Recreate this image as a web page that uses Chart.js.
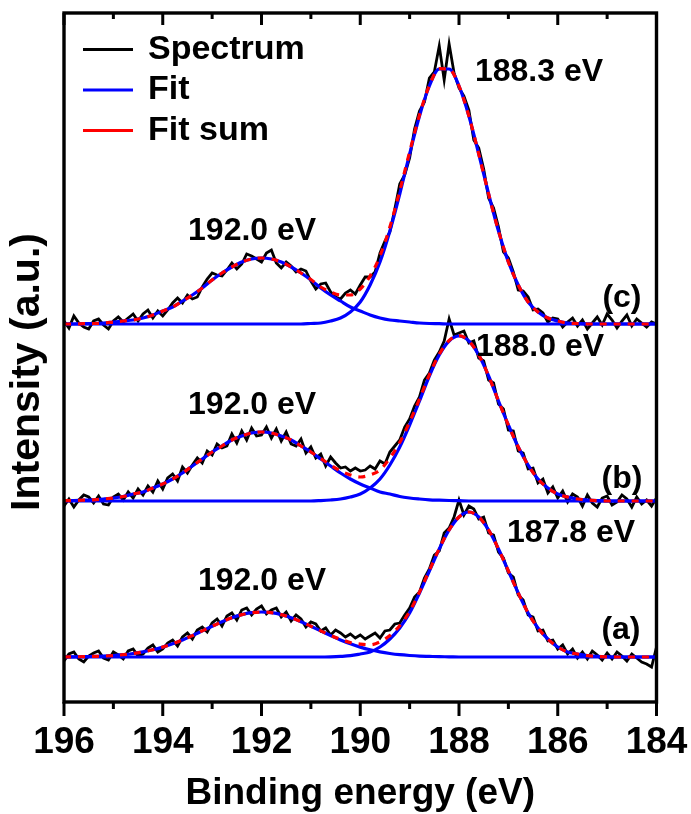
<!DOCTYPE html>
<html>
<head>
<meta charset="utf-8">
<title>B 1s spectra</title>
<script src="https://cdn.jsdelivr.net/npm/chart.js@4.4.1/dist/chart.umd.min.js"></script>
<style>
  html, body { margin: 0; padding: 0; background: #fff; }
  #chart { display: block; }
</style>
</head>
<body>
<canvas id="chart" width="691" height="814" style="width:691px;height:814px"></canvas>
<script>
// measured spectra, 196.0 -> 184.0 eV in 0.1 eV steps (intensity above each baseline)
var specA = [
  -4, 3, 5, -2, -5, 1, 4, 6, -1, -3,
  5, 2, -2, 6, 8, 1, 3, 9, 12, 5,
  8, 14, 17, 11, 20, 24, 18, 27, 30, 25,
  34, 38, 31, 41, 44, 37, 47, 49, 42, 48,
  51, 43, 47, 49, 40, 45, 36, 42, 38, 30,
  35, 33, 26, 29, 22, 27, 24, 20, 23, 19,
  22, 18, 21, 24, 19, 26, 27, 33, 34, 42,
  49, 60, 65, 79, 88, 102, 106, 124, 129, 140,
  157, 142, 151, 148, 138, 140, 124, 122, 105, 99,
  84, 80, 62, 57, 42, 40, 26, 27, 16, 17,
  8, 12, 3, 8, -1, 5, -2, 6, 2, -3,
  4, -2, 5, 1, -4, 3, -1, -5, -7, -10,
  10
];
var specB = [
  -5, 2, -6, 1, 6, 4, -2, 5, -3, -4,
  4, 7, 1, 9, 3, 12, 6, 15, 9, 20,
  12, 23, 27, 20, 34, 28, 36, 43, 38, 50,
  46, 57, 53, 55, 67, 58, 70, 61, 73, 65,
  66, 74, 63, 72, 60, 69, 57, 55, 62, 48,
  54, 43, 47, 35, 44, 38, 33, 34, 30, 33,
  30, 31, 35, 32, 40, 37, 49, 55, 61, 74,
  82, 95, 104, 121, 128, 141, 149, 160, 182, 166,
  168, 170, 158, 160, 143, 140, 121, 118, 97, 92,
  71, 70, 50, 48, 32, 33, 18, 22, 8, 14,
  3, 10, -1, 7, 4, -5, 6, -2, -6, 3,
  5, -4, -1, 6, 2, -6, 4, -3, 1, -5,
  3
];
var specC = [
  3, -4, 8, 1, -3, -5, 3, 5, -1, -5,
  3, 7, 2, 6, 10, 3, 10, 14, 6, 13,
  8, 14, 21, 26, 21, 29, 25, 27, 37, 45,
  51, 49, 48, 54, 61, 55, 60, 70, 68, 65,
  62, 71, 74, 61, 56, 62, 58, 52, 55, 53,
  43, 35, 40, 41, 32, 27, 25, 31, 34, 30,
  39, 47, 47, 52, 71, 83, 92, 115, 140, 149,
  166, 195, 213, 222, 246, 252, 278, 244, 280, 251,
  236, 228, 214, 184, 176, 155, 126, 116, 97, 72,
  66, 52, 34, 33, 27, 14, 15, 11, 2, 6,
  5, -3, 2, 6, -2, 4, -5, 1, 7, -1,
  10, 4, -4, 3, 9, -2, 5, 1, -3, 2,
  0
];

// fitted components, 196.0 -> 184.0 eV in 0.2 eV steps
var fitA192 = [
  0, 0.2, 0.3, 0.6, 0.9, 1.5, 2.3, 3.5, 5.1, 7.2,
  9.9, 13.2, 17.1, 21.4, 26.1, 30.8, 35.3, 39.3, 42.4, 44.3,
  45, 44.3, 42.4, 39.3, 35.3, 30.8, 26.1, 21.4, 17.1, 13.2,
  9.9, 7.2, 5.1, 3.5, 2.3, 1.5, 0.9, 0.6, 0.3, 0.2,
  0, 0, 0, 0, 0, 0, 0, 0, 0, 0,
  0, 0, 0, 0, 0, 0, 0, 0, 0, 0,
  0
];
var fitA187 = [
  0, 0, 0, 0, 0, 0, 0, 0, 0, 0,
  0, 0, 0, 0, 0, 0, 0, 0, 0, 0,
  0, 0, 0, 0, 0, 0, 0, 0.2, 0.6, 1.3,
  3, 5, 10, 18, 29, 44, 64, 86, 108, 127,
  140, 145, 140, 127, 108, 86, 64, 44, 29, 18,
  10, 5, 3, 1.3, 0.6, 0.2, 0, 0, 0, 0,
  0
];
var fitB192 = [
  0.3, 0.5, 0.8, 1.2, 2, 3, 4.5, 7, 9, 13,
  17, 22, 28, 35, 42, 49, 55, 61, 65, 68,
  69, 68, 65, 61, 55, 49, 42, 35, 28, 22,
  17, 13, 9, 7, 4.5, 3, 2, 1.2, 0.8, 0.5,
  0.3, 0, 0, 0, 0, 0, 0, 0, 0, 0,
  0, 0, 0, 0, 0, 0, 0, 0, 0, 0,
  0
];
var fitB188 = [
  0, 0, 0, 0, 0, 0, 0, 0, 0, 0,
  0, 0, 0, 0, 0, 0, 0, 0, 0, 0,
  0, 0, 0, 0, 0, 0, 0.4, 1, 2, 4,
  7, 13, 22, 36, 54, 76, 100, 125, 146, 160,
  165, 160, 146, 125, 100, 76, 54, 36, 22, 13,
  7, 4, 2, 1, 0.4, 0, 0, 0, 0, 0,
  0
];
var fitC192 = [
  0, 0, 0.3, 0.5, 1, 2, 3, 4, 6, 9,
  13, 17, 23, 29, 36, 44, 51, 57, 62, 65,
  66, 65, 62, 57, 51, 44, 36, 29, 23, 17,
  13, 9, 6, 4, 3, 2, 1, 0.5, 0.3, 0,
  0, 0, 0, 0, 0, 0, 0, 0, 0, 0,
  0, 0, 0, 0, 0, 0, 0, 0, 0, 0,
  0
];
var fitC188 = [
  0, 0, 0, 0, 0, 0, 0, 0, 0, 0,
  0, 0, 0, 0, 0, 0, 0, 0, 0, 0,
  0, 0, 0, 0, 0, 0.5, 1, 3, 6, 12,
  22, 39, 62, 93, 130, 170, 208, 238, 255, 255,
  238, 208, 170, 130, 93, 62, 39, 22, 12, 6,
  3, 1, 0.5, 0, 0, 0, 0, 0, 0, 0,
  0
];

// vertical offset of each trace: (a), (b), (c)
var baselines = [45, 201, 378];
var traceNames = ['(a)', '(b)', '(c)'];
var peakCenters = [[192.0, 187.8], [192.0, 188.0], [192.0, 188.3]];

var specEnergy = [];
for (var i = 0; i <= 120; i++) specEnergy.push(+(196 - i * 0.1).toFixed(1));
var fitEnergy = [];
for (var j = 0; j <= 60; j++) fitEnergy.push(+(196 - j * 0.2).toFixed(1));

var fontFamily = '"Liberation Sans", Arial, Helvetica, sans-serif';
var BLACK = '#000000', BLUE = '#0000ff', RED = '#ff0000';

function toPoints(energy, values, base) {
  return values.map(function (v, k) { return { x: energy[k], y: base + v }; });
}

function addValues(a, b) {
  return a.map(function (v, k) { return v + b[k]; });
}

var traces = [
  { spec: specA, fits: [fitA192, fitA187] },
  { spec: specB, fits: [fitB192, fitB188] },
  { spec: specC, fits: [fitC192, fitC188] }
];

var datasets = [];
traces.forEach(function (t, n) {
  var base = baselines[n];
  datasets.push({
    label: 'Spectrum ' + traceNames[n],
    data: toPoints(specEnergy, t.spec, base),
    borderColor: BLACK, borderWidth: 2.8, tension: 0, order: 3
  });
  t.fits.forEach(function (f) {
    datasets.push({
      label: 'Fit ' + traceNames[n],
      data: toPoints(fitEnergy, f, base),
      borderColor: BLUE, borderWidth: 3.2, cubicInterpolationMode: 'monotone', order: 2
    });
  });
  datasets.push({
    label: 'Fit sum ' + traceNames[n],
    data: toPoints(fitEnergy, addValues(t.fits[0], t.fits[1]), base),
    borderColor: RED, borderWidth: 3.2, borderDash: [7, 7],
    cubicInterpolationMode: 'monotone', order: 1
  });
});

// text placed in data coordinates: [text, energy, intensity]
var annotations = [
  [peakCenters[2][1].toFixed(1) + ' eV', 186.38, 630],
  [peakCenters[2][0].toFixed(1) + ' eV', 192.19, 471],
  [peakCenters[1][1].toFixed(1) + ' eV', 186.36, 355],
  [peakCenters[1][0].toFixed(1) + ' eV', 192.19, 297],
  [peakCenters[0][1].toFixed(1) + ' eV', 185.73, 169],
  [peakCenters[0][0].toFixed(1) + ' eV', 191.99, 121],
  [traceNames[2], 184.70, 404],
  [traceNames[1], 184.70, 223],
  [traceNames[0], 184.72, 72]
];

var legendRows = [['Spectrum', BLACK], ['Fit', BLUE], ['Fit sum', RED]];

// box around the plot plus major/minor ticks (outside at the bottom, inside at the top)
var frameTicks = {
  id: 'frameTicks',
  afterDraw: function (chart) {
    var ctx = chart.ctx, area = chart.chartArea, xs = chart.scales.x;
    ctx.save();
    ctx.strokeStyle = BLACK;
    ctx.lineWidth = 3.4;
    ctx.strokeRect(area.left, area.top, area.right - area.left, area.bottom - area.top);
    ctx.lineWidth = 3;
    for (var v = 184; v <= 196; v++) {
      var px = xs.getPixelForValue(v);
      var major = v % 2 === 0;
      ctx.beginPath();
      ctx.moveTo(px, area.bottom);
      ctx.lineTo(px, area.bottom + (major ? 14 : 7));
      ctx.moveTo(px, area.top);
      ctx.lineTo(px, area.top + (major ? 12 : 6));
      ctx.stroke();
    }
    ctx.restore();
  }
};

var textLayer = {
  id: 'textLayer',
  afterDraw: function (chart) {
    var ctx = chart.ctx, xs = chart.scales.x, ys = chart.scales.y;
    ctx.save();
    ctx.fillStyle = BLACK;
    ctx.textAlign = 'center';
    ctx.textBaseline = 'middle';

    ctx.font = 'bold 32px ' + fontFamily;
    annotations.forEach(function (a) {
      ctx.fillText(a[0], xs.getPixelForValue(a[1]), ys.getPixelForValue(a[2]));
    });

    // legend
    ctx.font = 'bold 34px ' + fontFamily;
    ctx.textAlign = 'left';
    legendRows.forEach(function (row, k) {
      var y = 49.5 + k * 40.5;
      ctx.strokeStyle = row[1];
      ctx.lineWidth = 3.2;
      ctx.beginPath();
      ctx.moveTo(83, y);
      ctx.lineTo(133, y);
      ctx.stroke();
      ctx.fillText(row[0], 148, y);
    });

    // y axis title
    ctx.font = 'bold 41px ' + fontFamily;
    ctx.textAlign = 'center';
    ctx.translate(28, 372);
    ctx.rotate(-Math.PI / 2);
    ctx.fillText('Intensity (a.u.)', 0, 0);
    ctx.restore();
  }
};

new Chart(document.getElementById('chart'), {
  type: 'line',
  data: { datasets: datasets },
  options: {
    responsive: false,
    animation: false,
    devicePixelRatio: 1,
    layout: { padding: { left: 64, right: 34.5, top: 13, bottom: 0 } },
    elements: { point: { radius: 0 }, line: { fill: false } },
    plugins: { legend: { display: false }, tooltip: { enabled: false } },
    scales: {
      x: {
        type: 'linear', reverse: true, min: 184, max: 196,
        afterFit: function (scale) {
          scale.height = 112;
          // end labels fit inside the layout padding
          scale.paddingLeft = 0;
          scale.paddingRight = 0;
        },
        border: { display: false },
        grid: { display: false, drawTicks: false },
        ticks: {
          stepSize: 2, color: BLACK, padding: 22, maxRotation: 0, autoSkip: false,
          font: { family: fontFamily, size: 37, weight: 'bold', lineHeight: 1 }
        },
        title: {
          display: true, text: 'Binding energy (eV)', color: BLACK,
          padding: { top: 0, bottom: 2 },
          font: { family: fontFamily, size: 37, weight: 'bold', lineHeight: 1 }
        }
      },
      y: { display: false, min: 0, max: 689 }
    }
  },
  plugins: [frameTicks, textLayer]
});
</script>
</body>
</html>
